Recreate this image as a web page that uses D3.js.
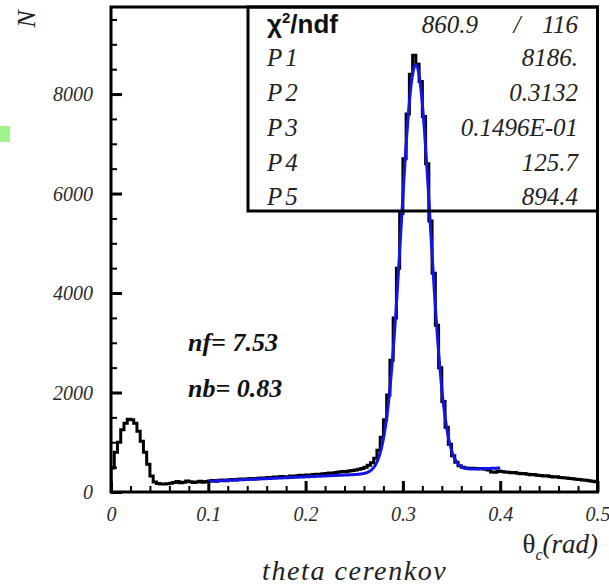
<!DOCTYPE html>
<html>
<head>
<meta charset="utf-8">
<script src="https://cdn.jsdelivr.net/npm/d3@7"></script>
<style>
  html, body { margin: 0; padding: 0; background: #fff; }
  svg { display: block; }
  .serif { font-family: "Liberation Serif", "DejaVu Serif", serif; }
  .sans { font-family: "Liberation Sans", Arial, sans-serif; }
</style>
</head>
<body>
<svg id="chart" width="609" height="588"></svg>
<script>
// Histogram of the Cherenkov angle: 150 bins of width 1/300 rad over [0, 0.5]
const binWidth = 1 / 300;
const counts = [
  480, 800, 1000, 1250, 1380, 1460, 1450, 1380, 1220, 1020,
  800, 560, 320, 200, 170, 160, 160, 165, 175, 190,
  210, 185, 195, 220, 205, 190, 200, 215, 195, 210,
  220, 230, 215, 235, 240, 225, 245, 250, 240, 255,
  260, 250, 265, 270, 260, 275, 280, 270, 290, 285,
  300, 295, 310, 305, 300, 320, 315, 325, 335, 330,
  340, 335, 350, 355, 350, 365, 370, 380, 375, 390,
  400, 410, 405, 420, 430, 440, 455, 470, 500, 540,
  590, 680, 840, 1100, 1450, 1950, 2650, 3500, 4500, 5600,
  6700, 7600, 8400, 8780, 8600, 8250, 7550, 6600, 5450, 4400,
  3350, 2500, 1820, 1300, 960, 730, 600, 530, 500, 480,
  470, 475, 470, 465, 470, 455, 440, 400, 395, 420,
  410, 400, 395, 385, 390, 375, 365, 370, 355, 345,
  350, 335, 330, 320, 325, 310, 300, 305, 290, 285,
  280, 270, 265, 255, 250, 240, 235, 225, 215, 205
];

// Fit: gaussian (P1, P2, P3) on a linear background (P4 + P5*x), fitted over [0.1, 0.4]
const fitNames = ["P1", "P2", "P3", "P4", "P5"];
const fitLabels = ["8186.", "0.3132", "0.1496E-01", "125.7", "894.4"];
const fitParams = [8186, 0.3132, 0.01496, 125.7, 894.4];
const fitRange = [0.1, 0.4];
const chi2Label = "860.9";
const ndfLabel = "116";

const xTicks = [0, 0.1, 0.2, 0.3, 0.4, 0.5];
const xTickLabels = ["0", "0.1", "0.2", "0.3", "0.4", "0.5"];
const yTicks = [0, 2000, 4000, 6000, 8000];
const yTickLabels = ["0", "2000", "4000", "6000", "8000"];

const svg = d3.select("#chart");

const x = d3.scaleLinear().domain([0, 0.5]).range([111, 597.5]);
const y = d3.scaleLinear().domain([0, 9750]).range([492, 7]);

// small marker in the left margin
svg.append("rect").attr("x", 0).attr("y", 126).attr("width", 10).attr("height", 16)
  .attr("fill", "#a0f48e");

svg.append("clipPath").attr("id", "plotClip")
  .append("rect").attr("x", 111).attr("y", 7).attr("width", 486.5).attr("height", 485);

// histogram drawn as a step line
const pts = [[0, 0]];
counts.forEach((c, i) => pts.push([i * binWidth, c]));
pts.push([counts.length * binWidth, counts[counts.length - 1]]);
const stepLine = d3.line().x(d => x(d[0])).y(d => y(d[1])).curve(d3.curveStepAfter);
svg.append("path").attr("d", stepLine(pts)).attr("clip-path", "url(#plotClip)")
  .attr("fill", "none").attr("stroke", "#000").attr("stroke-width", 3);

// fit curve
const [p1, p2, p3, p4, p5] = fitParams;
const fitFn = t => p1 * Math.exp(-0.5 * ((t - p2) / p3) ** 2) + p4 + p5 * t;
const fitPts = d3.range(0, 601).map(k => {
  const t = fitRange[0] + (fitRange[1] - fitRange[0]) * k / 600;
  return [t, fitFn(t)];
});
svg.append("path").attr("d", d3.line().x(d => x(d[0])).y(d => y(d[1]))(fitPts))
  .attr("fill", "none").attr("stroke", "#1414e6").attr("stroke-width", 3);

// axes: ticks point into the frame
const yMinor = d3.range(0, 9750, 500).filter(v => v % 2000 !== 0);
svg.append("g").attr("transform", "translate(111,0)")
  .call(d3.axisLeft(y).tickValues(yMinor).tickSizeInner(-6).tickSizeOuter(0).tickFormat(""))
  .call(g => g.select(".domain").remove())
  .call(g => g.selectAll("line").attr("stroke", "#000").attr("stroke-width", 2));
svg.append("g").attr("transform", "translate(111,0)")
  .call(d3.axisLeft(y).tickValues(yTicks).tickSizeInner(-11).tickSizeOuter(0).tickPadding(18)
    .tickFormat((d, i) => yTickLabels[i]))
  .call(g => g.select(".domain").remove())
  .call(g => g.selectAll("line").attr("stroke", "#000").attr("stroke-width", 3))
  .call(g => g.selectAll("text").attr("class", "serif").attr("font-style", "italic")
    .attr("font-size", 20).attr("fill", "#2a2a2a").attr("dy", "0.33em"));

const xMinor = d3.range(0, 25).map(k => k * 0.02).filter((v, k) => k % 5 !== 0);
svg.append("g").attr("transform", "translate(0,492)")
  .call(d3.axisBottom(x).tickValues(xMinor).tickSizeInner(-6).tickSizeOuter(0).tickFormat(""))
  .call(g => g.select(".domain").remove())
  .call(g => g.selectAll("line").attr("stroke", "#000").attr("stroke-width", 2));
svg.append("g").attr("transform", "translate(0,492)")
  .call(d3.axisBottom(x).tickValues(xTicks).tickSizeInner(-11).tickSizeOuter(0).tickPadding(15)
    .tickFormat((d, i) => xTickLabels[i]))
  .call(g => g.select(".domain").remove())
  .call(g => g.selectAll("line").attr("stroke", "#000").attr("stroke-width", 3))
  .call(g => g.selectAll("text").attr("class", "serif").attr("font-style", "italic")
    .attr("font-size", 20).attr("fill", "#2a2a2a"));

// frame
svg.append("rect").attr("x", 111).attr("y", 7).attr("width", 486.5).attr("height", 485)
  .attr("fill", "none").attr("stroke", "#000").attr("stroke-width", 3);

// statistics box
svg.append("rect").attr("x", 248).attr("y", 7).attr("width", 349.5).attr("height", 204)
  .attr("fill", "none").attr("stroke", "#000").attr("stroke-width", 3);
const rowY = [33, 66, 101, 136, 171, 205];
const chi = svg.append("text").attr("class", "sans").attr("x", 267).attr("y", rowY[0])
  .attr("font-size", 26).attr("font-weight", "bold").attr("fill", "#111");
chi.append("tspan").text("χ");
chi.append("tspan").attr("font-size", 15).attr("dy", -10).text("2");
chi.append("tspan").attr("dy", 10).text("/ndf");
const statText = (xPos, yPos, txt, anchor) => svg.append("text").attr("class", "serif")
  .attr("x", xPos).attr("y", yPos).attr("text-anchor", anchor)
  .attr("font-style", "italic").attr("font-size", 25).attr("fill", "#222").text(txt);
statText(478, rowY[0], chi2Label, "end");
statText(517, rowY[0], "/", "middle");
statText(578, rowY[0], ndfLabel, "end");
fitNames.forEach((n, i) => {
  statText(267, rowY[i + 1], n, "start").attr("letter-spacing", 3);
  statText(578, rowY[i + 1], fitLabels[i], "end");
});

// annotations
svg.append("text").attr("class", "serif").attr("x", 188).attr("y", 351)
  .attr("font-style", "italic").attr("font-weight", "bold").attr("font-size", 26)
  .attr("fill", "#111").text("nf= 7.53");
svg.append("text").attr("class", "serif").attr("x", 188).attr("y", 397)
  .attr("font-style", "italic").attr("font-weight", "bold").attr("font-size", 26)
  .attr("fill", "#111").text("nb= 0.83");

// axis titles
svg.append("text").attr("class", "serif").attr("transform", "translate(35,19) rotate(-90)")
  .attr("text-anchor", "middle").attr("font-style", "italic").attr("font-size", 26)
  .attr("fill", "#222").text("N");
const xt = svg.append("text").attr("class", "serif").attr("x", 598).attr("y", 553)
  .attr("text-anchor", "end").attr("font-size", 27).attr("fill", "#222");
xt.append("tspan").text("θ");
xt.append("tspan").attr("font-size", 16).attr("font-style", "italic").attr("dy", 7).text("c");
xt.append("tspan").attr("font-style", "italic").attr("dy", -7).text("(rad)");
svg.append("text").attr("class", "serif").attr("x", 262).attr("y", 580)
  .attr("font-style", "italic").attr("font-size", 28).attr("letter-spacing", 1.6)
  .attr("fill", "#222").text("theta cerenkov");
</script>
</body>
</html>
